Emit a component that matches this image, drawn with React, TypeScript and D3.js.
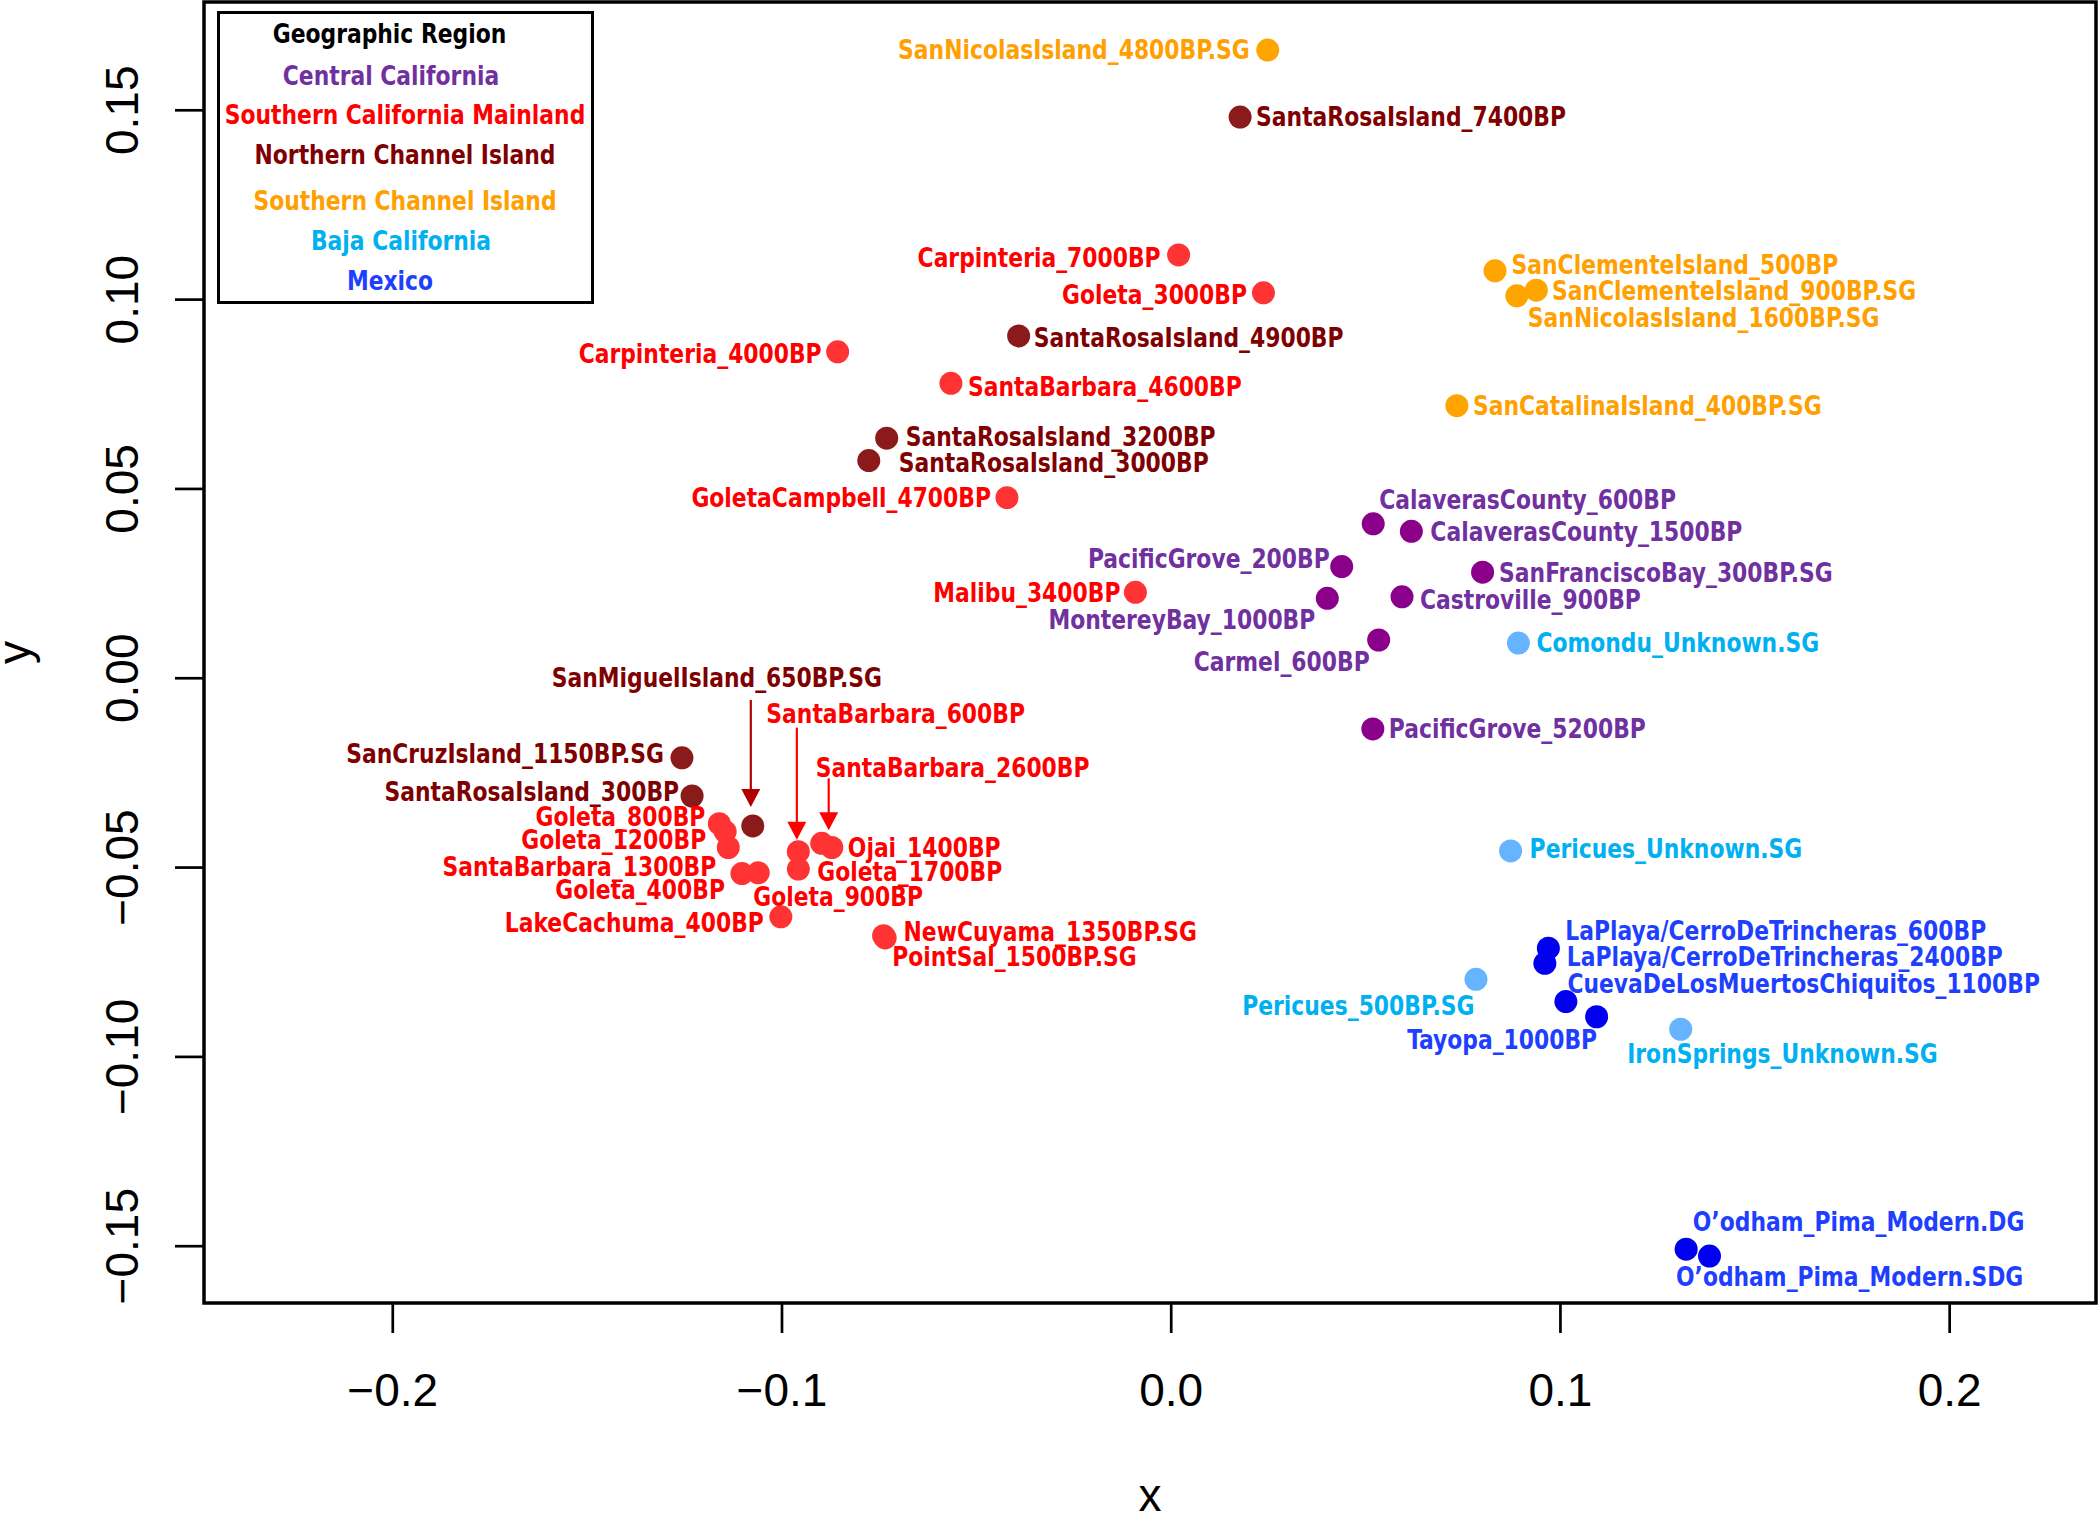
import React from 'react';
import * as d3 from 'd3';

// ---------- data ----------
const regionNames = [
  'Central California',
  'Southern California Mainland',
  'Northern Channel Island',
  'Southern Channel Island',
  'Baja California',
  'Mexico',
];
const regionTextColors = ['#7030A0', '#FF0000', '#7F0000', '#FFA000', '#00B0F0', '#1F3FFF'];
const regionPointColors = ['#8B008B', '#FF3333', '#8B1A1A', '#FFA500', '#66B3FF', '#0000EE'];

const sampleNames = [
  'CalaverasCounty_600BP', 'CalaverasCounty_1500BP', 'SanFranciscoBay_300BP.SG', 'Castroville_900BP',
  'PacificGrove_200BP', 'MontereyBay_1000BP', 'Carmel_600BP', 'PacificGrove_5200BP',
  'Carpinteria_7000BP', 'Goleta_3000BP', 'Carpinteria_4000BP', 'SantaBarbara_4600BP', 'GoletaCampbell_4700BP',
  'Malibu_3400BP', 'Goleta_800BP', 'Goleta_1200BP', 'SantaBarbara_1300BP', 'Goleta_400BP', 'Goleta_900BP',
  'LakeCachuma_400BP', 'SantaBarbara_600BP', 'Goleta_1700BP', 'SantaBarbara_2600BP', 'Ojai_1400BP',
  'NewCuyama_1350BP.SG', 'PointSal_1500BP.SG',
  'SantaRosaIsland_7400BP', 'SantaRosaIsland_4900BP', 'SantaRosaIsland_3200BP', 'SantaRosaIsland_3000BP',
  'SanMiguelIsland_650BP.SG', 'SanCruzIsland_1150BP.SG', 'SantaRosaIsland_300BP',
  'SanNicolasIsland_4800BP.SG', 'SanClementeIsland_500BP', 'SanClementeIsland_900BP.SG',
  'SanNicolasIsland_1600BP.SG', 'SanCatalinaIsland_400BP.SG',
  'Comondu_Unknown.SG', 'Pericues_Unknown.SG', 'Pericues_500BP.SG', 'IronSprings_Unknown.SG',
  'LaPlaya/CerroDeTrincheras_600BP', 'LaPlaya/CerroDeTrincheras_2400BP', 'CuevaDeLosMuertosChiquitos_1100BP',
  'Tayopa_1000BP', 'O\u2019odham_Pima_Modern.DG', 'O\u2019odham_Pima_Modern.SDG',
];
const sampleRegion = [
  0, 0, 0, 0, 0, 0, 0, 0,
  1, 1, 1, 1, 1, 1, 1, 1, 1, 1, 1, 1, 1, 1, 1, 1, 1, 1,
  2, 2, 2, 2, 2, 2, 2,
  3, 3, 3, 3, 3,
  4, 4, 4, 4,
  5, 5, 5, 5, 5, 5,
];
const sampleX = [
  0.0519, 0.0617, 0.0800, 0.0593, 0.0438, 0.0401, 0.0533, 0.0518,
  0.0019, 0.0237, -0.0857, -0.0566, -0.0422, -0.0092, -0.1161, -0.1146, -0.1138, -0.1103, -0.1061,
  -0.1003, -0.0958, -0.0958, -0.0898, -0.0872, -0.0739, -0.0735,
  0.0177, -0.0392, -0.0731, -0.0777, -0.1075, -0.1257, -0.1231,
  0.0248, 0.0832, 0.0938, 0.0888, 0.0734,
  0.0892, 0.0872, 0.0783, 0.1309,
  0.0969, 0.0960, 0.1014, 0.1093, 0.1323, 0.1383,
];
const sampleY = [
  0.0408, 0.0388, 0.0280, 0.0215, 0.0295, 0.0211, 0.0101, -0.0134,
  0.1118, 0.1018, 0.0862, 0.0779, 0.0477, 0.0227, -0.0384, -0.0405, -0.0447, -0.0516, -0.0514,
  -0.0630, -0.0458, -0.0504, -0.0436, -0.0447, -0.0680, -0.0686,
  0.1482, 0.0904, 0.0634, 0.0575, -0.0390, -0.0210, -0.0311,
  0.1659, 0.1076, 0.1025, 0.1010, 0.0720,
  0.0093, -0.0456, -0.0795, -0.0927,
  -0.0713, -0.0753, -0.0854, -0.0894, -0.1508, -0.1526,
];

const xTicks = [-0.2, -0.1, 0.0, 0.1, 0.2];
const yTicks = [-0.15, -0.1, -0.05, 0.0, 0.05, 0.1, 0.15];
const xDomain = [-0.2485, 0.2376];
const yDomain = [-0.165, 0.1786];

// ---------- layout (label placement next to each point: anchor, dx, dy in px) ----------
const labelPlacement: [string, number, number][] = [
  ['start', 6, -24], ['start', 19, 0], ['start', 16.5, 0], ['start', 18, 3],
  ['end', -12, -8], ['end', -12, 21], ['end', -9, 22], ['start', 16, 0],
  ['end', -18, 3], ['end', -16.5, 2], ['end', -16, 1.5], ['start', 17, 3], ['end', -16, 0],
  ['end', -15, 0], ['end', -14, -7], ['end', -19, 8], ['end', -12, 19], ['end', -17, 16], ['start', -5, 24],
  ['end', -17, 6], ['start', -32, -138], ['start', 19, 2.5], ['start', -6, -76], ['start', 16, 0],
  ['start', 20, -4], ['start', 7, 19],
  ['start', 16, 0], ['start', 15, 2], ['start', 19, -2], ['start', 30, 2.5],
  ['middle', -36, -148], ['end', -18, -4], ['end', -13, -4],
  ['end', -18, 0], ['start', 16.5, -6], ['start', 15.6, 0], ['start', 11, 22], ['start', 16, 0],
  ['start', 18, 0], ['start', 19, -2], ['end', -1.5, 26], ['start', -53.5, 24],
  ['start', 17, -18], ['start', 22, -7], ['start', 1.5, -18], ['end', 0.5, 22.6], ['start', 6.7, -27.6], ['start', -33.5, 20.7],
];
// arrows: sample, dx, from dy, to dy, colour
const arrowSpecs: [string, number, number, number, string][] = [
  ['SanMiguelIsland_650BP.SG', -2, -126, -19, '#B00000'],
  ['SantaBarbara_600BP', -1.5, -124, -12, '#FF0000'],
  ['SantaBarbara_2600BP', 7, -65, -13, '#FF0000'],
];
const legendCenters = [391, 405, 405, 405, 401, 390];
const legendBaselines = [85, 123.5, 164, 209.5, 250, 290];

const W = 2100;
const H = 1517;
const plot = { left: 204, right: 2096, top: 2, bottom: 1303 };
const LABEL_FONT = "'Liberation Sans Narrow', 'DejaVu Sans Condensed', 'Arial Narrow', sans-serif";
const LABEL_SIZE = 26;
const LABEL_SX = 0.935;
const AXIS_FONT = "'Liberation Sans', Arial, Helvetica, sans-serif";

function Label(props: { x: number; y: number; anchor: string; color: string; text: string; dy?: string }) {
  return (
    <text transform={`translate(${props.x},${props.y}) scale(${LABEL_SX},1)`} dy={props.dy ?? '0.36em'}
      textAnchor={props.anchor} fontFamily={LABEL_FONT} fontWeight="bold" fontSize={LABEL_SIZE}
      fill={props.color}>{props.text}</text>
  );
}

export default function App() {
  const x = d3.scaleLinear().domain(xDomain).range([plot.left, plot.right]);
  const y = d3.scaleLinear().domain(yDomain).range([plot.bottom, plot.top]);
  const fmtY = d3.format('.2f');
  const fmtX = d3.format('.1f');
  const minus = (s: string) => s.replace('-', '\u2212');

  const idx = (name: string) => sampleNames.indexOf(name);

  return (
    <svg width={W} height={H} style={{ position: 'absolute', left: 0, top: 0, background: '#fff' }}>
      <rect x={0} y={0} width={W} height={H} fill="#fff" />
      {/* points */}
      {sampleNames.map((n, i) => (
        <circle key={'p' + i} cx={x(sampleX[i])} cy={y(sampleY[i])} r={11.5} fill={regionPointColors[sampleRegion[i]]} />
      ))}
      {/* labels */}
      {sampleNames.map((n, i) => {
        const [anchor, dx, dy] = labelPlacement[i];
        return (
          <Label key={'l' + i} x={x(sampleX[i]) + dx} y={y(sampleY[i]) + dy} anchor={anchor}
            color={regionTextColors[sampleRegion[i]]} text={n} />
        );
      })}
      {/* arrows */}
      {arrowSpecs.map(([name, dx, y0, y1, col], k) => {
        const i = idx(name);
        const ax = x(sampleX[i]) + dx;
        const py = y(sampleY[i]);
        const tip = py + y1;
        return (
          <g key={'a' + k}>
            <line x1={ax} x2={ax} y1={py + y0} y2={tip - 15} stroke={col} strokeWidth={2.2} />
            <path d={`M${ax - 9.5},${tip - 18} L${ax + 9.5},${tip - 18} L${ax},${tip} Z`} fill={col} />
          </g>
        );
      })}
      {/* box */}
      <rect x={plot.left} y={plot.top} width={plot.right - plot.left} height={plot.bottom - plot.top}
        fill="none" stroke="#000" strokeWidth={3.5} />
      {/* x ticks */}
      {xTicks.map((t, i) => (
        <g key={'xt' + i}>
          <line x1={x(t)} x2={x(t)} y1={plot.bottom} y2={plot.bottom + 30} stroke="#000" strokeWidth={2.7} />
          <text x={x(t)} y={1406} textAnchor="middle" fontFamily={AXIS_FONT} fontSize={46} fill="#000">
            {minus(fmtX(t))}
          </text>
        </g>
      ))}
      {/* y ticks */}
      {yTicks.map((t, i) => (
        <g key={'yt' + i}>
          <line x1={plot.left - 29} x2={plot.left} y1={y(t)} y2={y(t)} stroke="#000" strokeWidth={2.7} />
          <text transform={`translate(138,${y(t)}) rotate(-90)`} textAnchor="middle" fontFamily={AXIS_FONT}
            fontSize={46} fill="#000">{minus(fmtY(t))}</text>
        </g>
      ))}
      {/* axis titles */}
      <text x={(plot.left + plot.right) / 2} y={1511} textAnchor="middle" fontFamily={AXIS_FONT} fontSize={46}>x</text>
      <text transform={`translate(30,${(plot.top + plot.bottom) / 2}) rotate(-90)`} textAnchor="middle"
        fontFamily={AXIS_FONT} fontSize={46}>y</text>
      {/* legend */}
      <rect x={218.5} y={12.5} width={374} height={290} fill="#fff" stroke="#000" strokeWidth={3} />
      <Label x={389.5} y={43} anchor="middle" color="#000" text="Geographic Region" dy="0" />
      {regionNames.map((r, i) => (
        <Label key={'lg' + i} x={legendCenters[i]} y={legendBaselines[i]} anchor="middle" dy="0"
          color={regionTextColors[i]} text={r} />
      ))}
    </svg>
  );
}
